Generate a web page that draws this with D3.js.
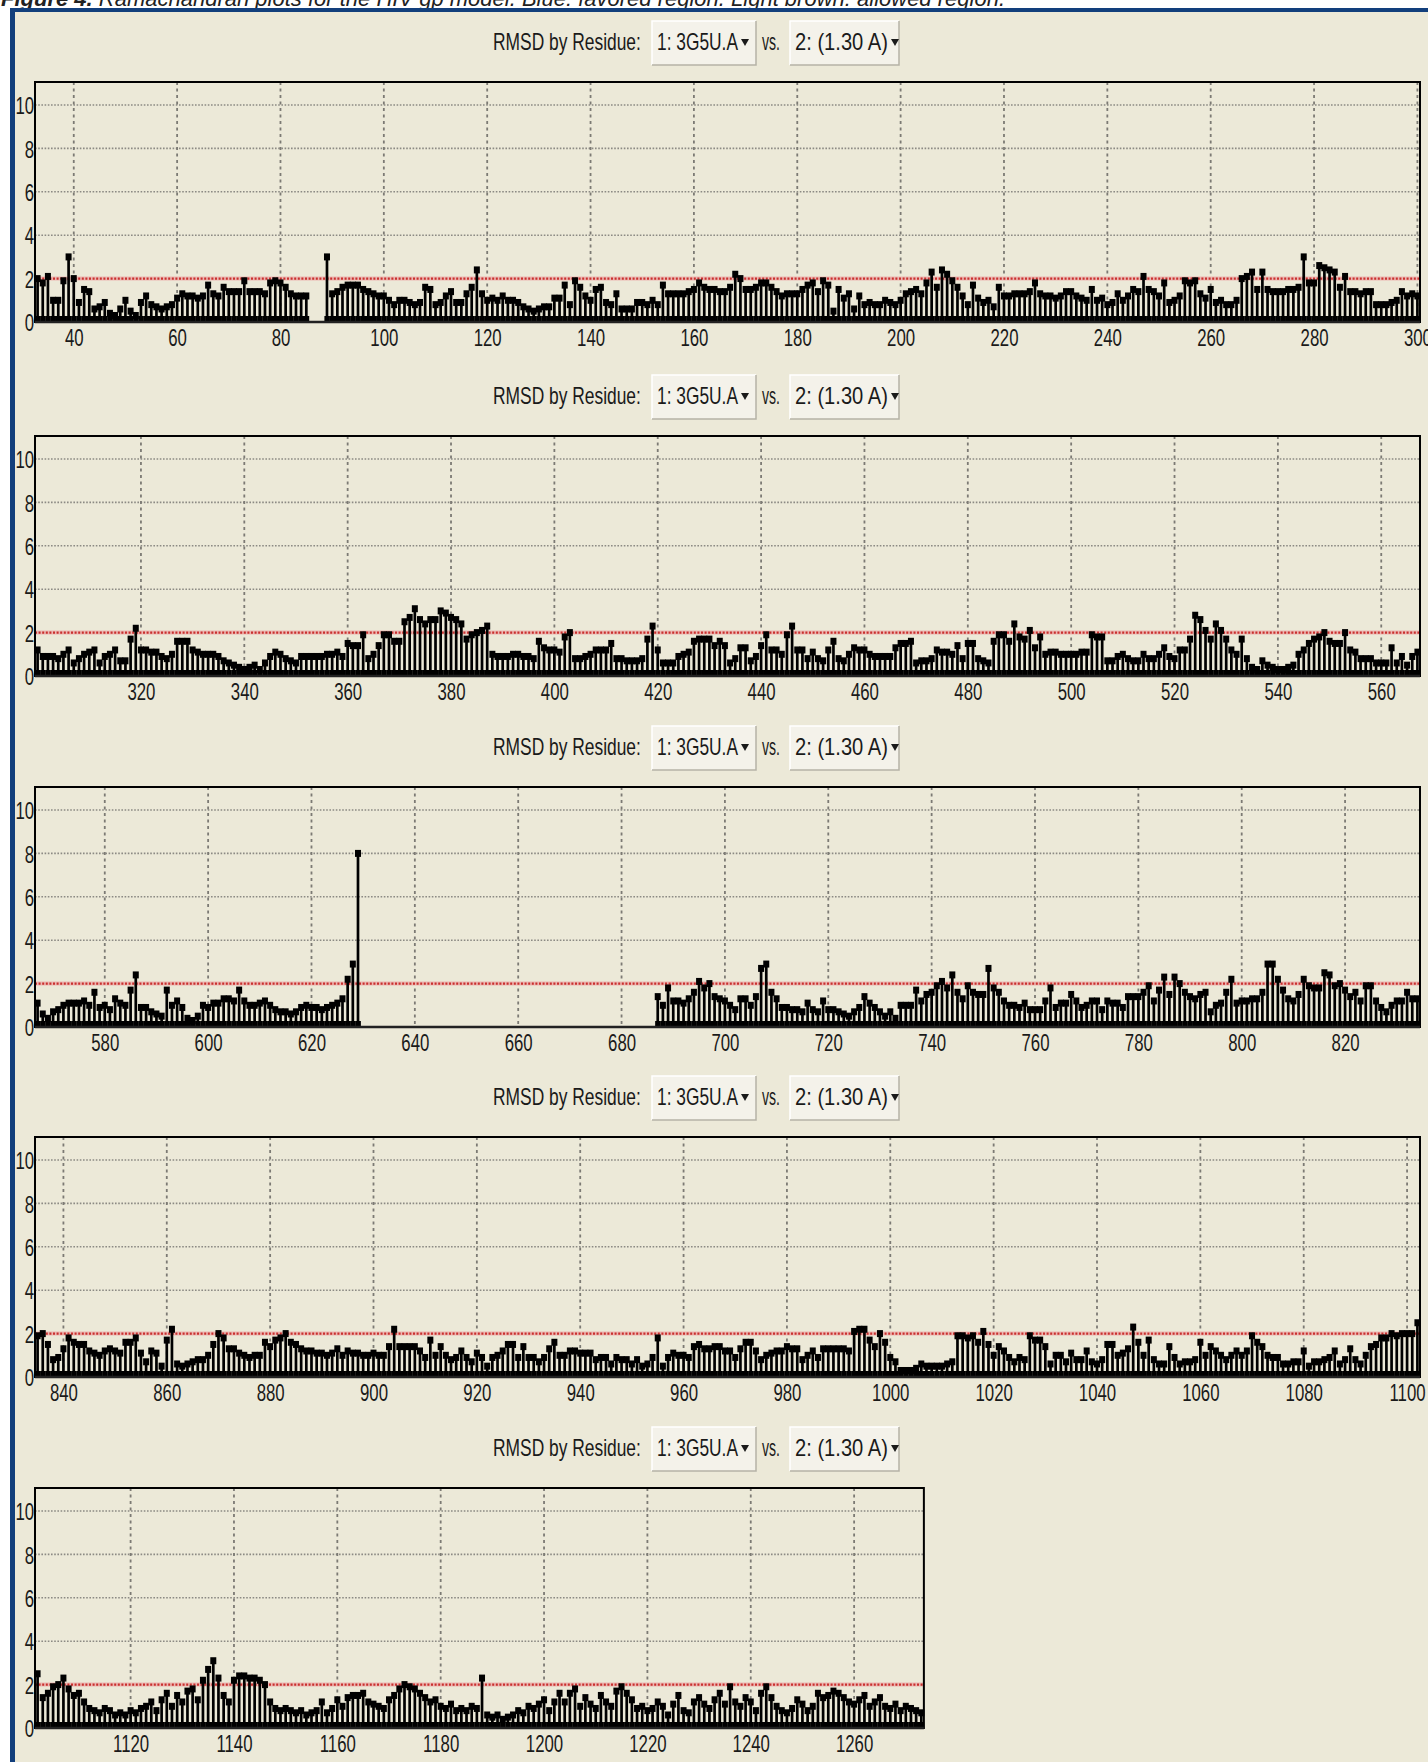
<!DOCTYPE html>
<html>
<head>
<meta charset="utf-8">
<script src="https://cdn.jsdelivr.net/npm/d3@7"></script>
<style>
  body { margin: 0; background: #ffffff; }
  svg { display: block; }
</style>
</head>
<body>
<svg id="chart" width="1428" height="1762"></svg>
<script>
// ---- RMSD per residue (Å), one array per stretch of the chain ----
// residues 33-300 (86-88 unresolved)
const rmsdStart033 = 33;
const rmsd033 = [
  2.0,1.8,2.1,1.0,1.0,1.9,3.0,2.0,0.9,1.5,
  1.4,0.6,0.7,0.9,0.4,0.3,0.6,1.0,0.5,0.3,
  0.9,1.2,0.8,0.7,0.6,0.7,0.8,1.1,1.3,1.2,
  1.2,1.1,1.2,1.7,1.3,1.2,1.6,1.4,1.4,1.4,
  1.9,1.4,1.4,1.4,1.3,1.8,1.9,1.8,1.6,1.3,
  1.2,1.2,1.2,null,null,null,3.0,1.3,1.4,1.6,
  1.7,1.7,1.7,1.5,1.4,1.3,1.2,1.2,1.0,0.8,
  1.0,1.0,0.9,0.8,0.9,1.6,1.5,0.8,0.9,1.2,
  1.4,0.9,0.9,1.3,1.6,2.4,1.3,1.0,1.1,1.0,
  1.2,1.0,1.0,0.9,0.7,0.6,0.5,0.6,0.7,0.7,
  1.1,1.1,1.7,0.8,1.9,1.6,1.2,1.0,1.5,1.6,
  0.9,0.8,1.3,0.6,0.6,0.6,0.9,0.9,0.8,1.0,
  0.8,1.7,1.3,1.3,1.3,1.3,1.4,1.5,1.8,1.6,
  1.5,1.5,1.4,1.4,1.6,2.2,2.0,1.5,1.5,1.6,
  1.8,1.8,1.6,1.4,1.2,1.3,1.3,1.3,1.5,1.7,
  1.8,1.4,1.9,1.7,0.5,1.5,1.1,1.3,0.6,1.2,
  0.8,0.9,0.8,0.8,1.0,0.9,0.8,1.0,1.3,1.4,
  1.5,1.3,1.8,2.3,1.6,2.4,2.2,1.9,1.6,1.2,
  0.8,1.7,1.1,0.9,1.0,0.7,1.6,1.2,1.2,1.3,
  1.3,1.3,1.4,1.8,1.3,1.2,1.2,1.1,1.2,1.4,
  1.4,1.2,1.1,1.0,1.5,1.0,1.1,0.8,0.9,1.3,
  1.0,1.2,1.5,1.4,2.1,1.5,1.4,1.2,1.8,0.9,
  1.0,1.2,1.9,1.8,1.9,1.3,1.1,1.5,0.9,1.0,
  0.8,0.8,1.0,2.0,2.1,2.3,1.5,2.3,1.5,1.4,
  1.4,1.4,1.5,1.5,1.6,3.0,1.8,1.8,2.6,2.5,
  2.4,2.3,1.6,2.1,1.4,1.4,1.3,1.4,1.4,0.8,
  0.8,0.8,0.9,1.0,1.4,1.2,1.3,1.2
];
// residues 301-567
const rmsdStart301 = 301;
const rmsd301 = [
  0.9,0.9,0.9,0.8,1.0,1.2,0.6,0.8,1.0,1.1,
  1.2,0.6,0.9,1.0,1.2,0.7,0.7,1.7,2.2,1.2,
  1.2,1.1,1.1,0.9,0.8,1.0,1.6,1.6,1.6,1.2,
  1.1,1.0,1.0,1.0,0.9,0.7,0.6,0.5,0.4,0.3,
  0.4,0.5,0.3,0.6,0.9,1.1,1.0,0.8,0.7,0.6,
  0.9,0.9,0.9,0.9,0.9,1.0,1.0,1.1,0.9,1.5,
  1.4,1.4,1.9,0.8,1.0,1.4,1.9,1.9,1.6,1.6,
  2.5,2.7,3.1,2.6,2.4,2.6,2.6,3.0,2.9,2.7,
  2.6,2.4,1.7,1.9,2.0,2.1,2.3,1.0,0.9,0.9,
  0.9,1.0,1.0,0.9,0.9,0.8,1.6,1.3,1.2,1.2,
  1.1,1.8,2.0,0.8,0.8,0.9,1.0,1.2,1.2,1.2,
  1.5,0.8,0.8,0.7,0.7,0.7,0.8,1.7,2.3,1.2,
  0.6,0.6,0.6,0.9,1.0,1.1,1.6,1.7,1.7,1.7,
  1.4,1.6,1.4,0.6,0.8,1.3,1.3,0.7,0.9,1.4,
  1.9,1.2,1.2,1.0,1.9,2.3,1.2,1.2,0.8,1.1,
  0.8,0.7,1.2,1.6,0.8,0.7,1.0,1.3,1.2,1.2,
  1.0,0.9,0.9,0.9,0.9,1.3,1.5,1.5,1.6,0.6,
  0.7,0.7,0.8,1.2,1.1,1.1,1.0,1.4,0.8,1.5,
  1.5,0.8,0.7,0.6,1.6,1.9,1.9,1.6,2.4,1.8,
  1.7,2.1,1.3,1.8,1.0,1.1,1.1,1.0,1.0,1.0,
  1.0,1.1,1.1,1.9,1.8,1.8,0.7,0.7,0.9,1.0,
  0.8,0.7,0.7,1.0,0.8,0.8,1.0,1.3,0.9,0.8,
  1.2,1.2,1.7,2.8,2.6,2.1,1.7,2.4,2.1,1.7,
  1.2,1.0,1.7,0.8,0.4,0.3,0.7,0.5,0.4,0.3,
  0.3,0.4,0.5,1.0,1.2,1.5,1.7,1.8,2.0,1.6,
  1.5,1.5,2.0,1.2,1.1,0.8,0.8,0.8,0.6,0.6,
  0.6,1.3,0.6,0.9,0.5,0.9,1.1
];
// residues 568-629
const rmsdStart568 = 568;
const rmsd568 = [
  0.6,0.4,0.7,0.8,1.0,1.1,1.1,1.1,1.2,1.0,
  1.6,0.9,1.0,0.8,1.3,1.1,1.0,1.7,2.4,0.9,
  0.9,0.7,0.6,0.5,1.7,1.0,1.2,0.9,0.4,0.3,
  0.5,1.0,0.9,1.1,1.1,1.3,1.3,1.2,1.7,1.2,
  1.0,1.0,1.1,1.2,1.0,0.8,0.7,0.7,0.6,0.7,
  0.9,1.0,0.9,0.9,0.8,0.9,1.0,1.1,1.3,2.2,
  2.9,8.0
];
// residues 687-834
const rmsdStart687 = 687;
const rmsd687 = [
  1.4,1.0,1.8,1.2,1.2,1.1,1.3,1.6,2.1,1.8,
  2.0,1.4,1.3,1.2,1.0,0.8,1.3,1.3,1.0,1.4,
  2.7,2.9,1.6,1.3,0.9,0.9,0.8,0.8,0.7,1.1,
  0.8,0.7,1.2,0.8,0.8,0.7,0.6,0.5,0.7,0.9,
  1.4,1.1,0.9,0.7,0.5,0.7,0.4,1.0,1.0,1.0,
  1.7,1.2,1.5,1.6,1.9,2.1,1.8,2.4,1.6,1.3,
  1.9,1.6,1.5,1.5,2.7,1.8,1.6,1.2,1.0,1.0,
  0.9,1.1,0.8,0.8,0.8,1.2,1.8,0.9,1.1,1.1,
  1.5,1.2,0.9,1.0,1.2,1.2,0.8,1.2,1.1,1.1,
  0.9,1.4,1.4,1.4,1.6,1.9,1.2,1.7,2.3,1.5,
  2.3,2.0,1.6,1.4,1.3,1.5,1.6,0.7,1.0,1.1,
  1.6,2.2,1.1,1.2,1.2,1.3,1.3,1.6,2.9,2.9,
  2.2,1.7,1.3,1.2,1.5,2.2,1.9,1.8,1.8,2.5,
  2.4,1.9,2.0,1.7,1.4,1.6,1.2,1.9,1.9,1.2,
  0.9,0.7,1.0,1.2,1.2,1.6,1.3,1.3
];
// residues 835-1102
const rmsdStart835 = 835;
const rmsd835 = [
  1.9,2.0,1.5,0.8,0.9,1.3,1.8,1.6,1.5,1.5,
  1.2,1.1,1.0,1.2,1.3,1.2,1.1,1.6,1.6,1.8,
  1.1,0.7,1.2,1.1,0.5,1.7,2.2,0.6,0.5,0.6,
  0.7,0.8,0.8,1.0,1.5,2.0,1.8,1.3,1.3,1.1,
  1.0,0.9,1.0,1.0,1.6,1.4,1.7,1.8,2.0,1.6,
  1.5,1.3,1.2,1.2,1.1,1.1,1.0,1.1,1.3,1.0,
  1.2,1.1,1.1,1.0,1.0,1.1,1.0,1.0,1.4,2.2,
  1.4,1.4,1.4,1.4,1.2,0.9,1.7,1.0,1.4,1.0,
  0.8,0.9,1.2,0.9,0.7,1.1,0.9,0.5,0.9,1.0,
  1.2,1.5,1.5,0.9,1.4,0.9,0.9,0.7,0.9,1.3,
  1.6,1.0,1.0,1.2,1.2,1.1,1.1,1.1,0.8,0.9,
  0.9,0.6,0.9,0.8,0.8,0.6,0.8,0.5,0.6,0.9,
  1.8,0.5,0.9,1.1,1.0,1.0,0.9,1.4,1.5,1.3,
  1.3,1.4,1.4,1.2,1.2,0.9,1.3,1.6,1.6,1.2,
  0.8,1.0,1.1,1.2,1.2,1.4,1.3,1.3,0.8,1.0,
  1.2,0.9,1.3,1.3,1.3,1.3,1.3,1.2,2.1,2.2,
  2.2,1.7,1.4,2.0,1.6,0.9,0.7,0.3,0.3,0.3,
  0.4,0.6,0.5,0.5,0.5,0.5,0.6,0.7,1.9,1.9,
  1.8,1.9,1.6,2.1,1.5,1.0,1.4,1.2,0.9,0.7,
  0.9,0.8,1.9,1.7,1.7,1.4,0.6,1.0,1.0,0.7,
  1.1,0.8,0.8,1.2,0.7,0.6,0.8,1.5,1.5,1.0,
  1.1,1.3,2.3,1.6,1.0,1.7,0.8,0.6,0.6,1.4,
  0.9,0.6,0.7,0.7,0.8,1.6,1.0,1.4,1.2,1.0,
  0.8,1.0,1.2,1.0,1.2,1.9,1.6,1.4,1.0,0.9,
  0.9,0.6,0.6,0.7,0.7,1.2,0.5,0.7,0.7,0.8,
  0.9,1.2,0.6,0.8,1.3,0.8,0.6,1.0,1.4,1.5,
  1.8,1.8,2.0,1.9,2.0,2.0,2.0,2.5
];
// residues 1103-1274
const rmsdStart1103 = 1103;
const rmsd1103 = [
  1.4,1.6,1.9,2.0,2.3,1.8,1.5,1.6,1.2,0.9,
  0.8,0.7,0.9,0.8,0.6,0.7,0.6,0.8,0.7,0.9,
  1.0,1.2,0.8,1.3,1.6,1.0,1.5,1.2,1.7,1.8,
  1.3,2.2,2.7,3.1,2.3,1.5,1.2,2.2,2.4,2.4,
  2.3,2.3,2.2,2.0,1.2,0.9,0.8,0.9,0.8,0.7,
  0.8,0.6,0.7,0.8,1.2,0.7,0.9,1.3,1.0,1.4,
  1.5,1.5,1.6,1.2,1.1,1.0,0.9,1.3,1.5,1.8,
  2.0,1.9,1.8,1.6,1.4,1.2,1.3,1.0,0.9,1.1,
  0.8,0.9,0.8,1.0,0.9,2.3,0.6,0.5,0.6,0.4,
  0.5,0.6,0.8,0.7,1.0,0.9,1.1,1.3,0.8,1.2,
  1.6,1.2,1.6,1.8,1.0,1.4,1.1,0.9,1.5,1.2,
  1.0,1.7,1.9,1.6,1.3,0.9,1.0,0.8,0.9,1.2,
  1.0,0.6,1.1,1.5,0.8,0.7,1.2,1.4,1.1,0.9,
  1.3,1.6,1.1,1.9,1.2,1.0,1.4,1.2,0.8,1.6,
  1.9,1.4,1.0,0.8,0.7,0.9,1.3,1.1,0.8,1.0,
  1.6,1.4,1.5,1.7,1.6,1.4,1.2,1.1,1.3,1.5,
  1.0,1.2,1.4,1.0,0.9,1.1,0.8,1.0,0.9,0.8,
  0.7,2.4
];

// residue windows shown in each strip, and their labelled residues
const windowStart = [32.5, 299.5, 566.5, 834.5, 1101.5];
const windowEnd   = [300.5, 567.5, 834.5, 1102.5, 1273.5];
const residueTicks = [
  [40,60,80,100,120,140,160,180,200,220,240,260,280,300],
  [320,340,360,380,400,420,440,460,480,500,520,540,560],
  [580,600,620,640,660,680,700,720,740,760,780,800,820],
  [840,860,880,900,920,940,960,980,1000,1020,1040,1060,1080,1100],
  [1120,1140,1160,1180,1200,1220,1240,1260]
];
const rmsdTicks = [0, 2, 4, 6, 8, 10];
const rmsdMax = 11.06;
const cutoff = 2.0;

const titleText = "RMSD by Residue:";
const firstChoice = "1: 3G5U.A";
const versusText = "vs.";
const secondChoice = "2: (1.30 A)";
const captionText = ["Figure 4.", " Ramachandran plots for the HIV gp model. Blue: favored region. Light brown: allowed region."];

// flatten the stretches into one residue -> value table
const series = [];
[[rmsdStart033, rmsd033], [rmsdStart301, rmsd301], [rmsdStart568, rmsd568],
 [rmsdStart687, rmsd687], [rmsdStart835, rmsd835], [rmsdStart1103, rmsd1103]]
  .forEach(([start, vals]) => vals.forEach((v, i) => {
    if (v !== null) series.push({ res: start + i, val: v });
  }));

// ---- drawing ----
const FONT = "'Liberation Sans', Arial, Helvetica, sans-serif";
const svg = d3.select("#chart");
const W = 1428, H = 1762;

// narrow text: draw at full size, then squeeze horizontally to a given width
function narrowText(g, x, y, str, width, size) {
  const t = g.append("text").attr("x", 0).attr("y", 0)
    .attr("font-family", FONT).attr("font-size", size).attr("fill", "#1a1a1a")
    .text(str);
  const natural = t.node().getComputedTextLength();
  t.attr("transform", `translate(${x},${y}) scale(${width / natural},1)`);
  return t;
}

svg.append("rect").attr("width", W).attr("height", H).attr("fill", "#ffffff");

// caption line, scrolled partly out of view at the top
const cap = svg.append("text")
  .attr("x", 1).attr("y", 6)
  .attr("font-family", FONT).attr("font-size", 22)
  .attr("font-style", "italic").attr("fill", "#222");
cap.append("tspan").attr("font-weight", "bold").text(captionText[0]);
cap.append("tspan").text(captionText[1]);

// window background and its blue frame
svg.append("rect").attr("x", 10).attr("y", 8).attr("width", W - 10).attr("height", H - 8)
  .attr("fill", "#ece9d8");
svg.append("rect").attr("x", 10).attr("y", 8).attr("width", W - 10).attr("height", 4)
  .attr("fill", "#123f7c");
svg.append("rect").attr("x", 10).attr("y", 8).attr("width", 5).attr("height", H - 8)
  .attr("fill", "#123f7c");

const stripOffset = [0, 354, 705, 1055, 1406];
const plotLeft = 35;
const pxPerResidue = (1420 - plotLeft) / (windowEnd[0] - windowStart[0]);

function dropdown(g, x, y, w, h, label, textW) {
  g.append("rect").attr("x", x).attr("y", y).attr("width", w).attr("height", h)
    .attr("fill", "#f4f2ea");
  g.append("path").attr("d", `M${x},${y + h}V${y}H${x + w}`)
    .attr("fill", "none").attr("stroke", "#ffffff").attr("stroke-width", 1.5);
  g.append("path").attr("d", `M${x},${y + h}H${x + w}V${y}`)
    .attr("fill", "none").attr("stroke", "#b5b2a6").attr("stroke-width", 1.5);
  narrowText(g, x + 5, y + 29, label, textW, 23);
  const tx = x + 5 + textW + 7, ty = y + 21;
  g.append("path").attr("d", `M${tx - 4},${ty - 3}L${tx + 4},${ty - 3}L${tx},${ty + 4}Z`)
    .attr("fill", "#1a1a1a");
}

windowStart.forEach((d0, i) => {
  const off = stripOffset[i];
  const top = 82 + off, bottom = 322 + off;
  const right = plotLeft + (windowEnd[i] - d0) * pxPerResidue;
  const x = d3.scaleLinear().domain([d0, windowEnd[i]]).range([plotLeft, right]);
  const y = d3.scaleLinear().domain([0, rmsdMax]).range([bottom, top]);
  const g = svg.append("g");

  // header: title and the two selectors
  narrowText(g, 493, 50 + off, titleText, 148, 23);
  dropdown(g, 652, 21 + off, 104, 44, firstChoice, 81);
  narrowText(g, 762, 50 + off, versusText, 18, 23);
  dropdown(g, 790, 21 + off, 109, 44, secondChoice, 93);

  // grid
  g.selectAll(".hgrid").data(rmsdTicks.filter(t => t > 0 && t !== cutoff)).join("line")
    .attr("x1", plotLeft).attr("x2", right)
    .attr("y1", d => y(d)).attr("y2", d => y(d))
    .attr("stroke", "#8c8a84").attr("stroke-width", 1.6).attr("stroke-dasharray", "1.6,1.6");
  g.selectAll(".vgrid").data(residueTicks[i].filter(t => x(t) < right - 1)).join("line")
    .attr("x1", d => x(d)).attr("x2", d => x(d))
    .attr("y1", top).attr("y2", bottom)
    .attr("stroke", "#7c7a74").attr("stroke-width", 1.8).attr("stroke-dasharray", "3,3.5");

  // cutoff line
  g.append("line").attr("x1", plotLeft).attr("x2", right)
    .attr("y1", y(cutoff)).attr("y2", y(cutoff))
    .attr("stroke", "#ebb7b2").attr("stroke-width", 4);
  g.append("line").attr("x1", plotLeft).attr("x2", right)
    .attr("y1", y(cutoff)).attr("y2", y(cutoff))
    .attr("stroke", "#c9302e").attr("stroke-width", 2.2).attr("stroke-dasharray", "2,1.6");

  // stems
  const pts = series.filter(d => d.res >= d0 && d.res <= windowEnd[i]);
  g.selectAll(".base").data(pts).join("rect")
    .attr("x", d => x(d.res) - pxPerResidue / 2).attr("width", pxPerResidue + 0.3)
    .attr("y", bottom - 6).attr("height", 6).attr("fill", "#000");
  g.selectAll(".stem").data(pts).join("line")
    .attr("x1", d => x(d.res)).attr("x2", d => x(d.res))
    .attr("y1", bottom).attr("y2", d => y(d.val))
    .attr("stroke", "#000").attr("stroke-width", 2.7);
  g.selectAll(".mark").data(pts).join("rect")
    .attr("x", d => x(d.res) - 3).attr("width", 6)
    .attr("y", d => y(d.val) - 3.5).attr("height", 7).attr("fill", "#000");

  // frame
  g.append("rect").attr("x", plotLeft).attr("y", top)
    .attr("width", right - plotLeft).attr("height", bottom - top)
    .attr("fill", "none").attr("stroke", "#000").attr("stroke-width", 2);
  g.append("line").attr("x1", plotLeft).attr("x2", right)
    .attr("y1", bottom).attr("y2", bottom).attr("stroke", "#222").attr("stroke-width", 2.5);

  // axes
  const xa = g.append("g").attr("transform", `translate(0,${bottom})`)
    .call(d3.axisBottom(x).tickValues(residueTicks[i]).tickFormat(d3.format("d"))
      .tickSize(0).tickPadding(6.5));
  const ya = g.append("g").attr("transform", `translate(${plotLeft},0)`)
    .call(d3.axisLeft(y).tickValues(rmsdTicks).tickFormat(d3.format("d"))
      .tickSize(0).tickPadding(1.2));
  [xa, ya].forEach(a => {
    a.select(".domain").remove();
    a.selectAll("text").attr("font-family", FONT).attr("font-size", 24)
      .attr("fill", "#1a1a1a").attr("transform", "scale(0.7,1)");
  });
  ya.selectAll("text").attr("dy", "0.36em");
});
</script>
</body>
</html>
